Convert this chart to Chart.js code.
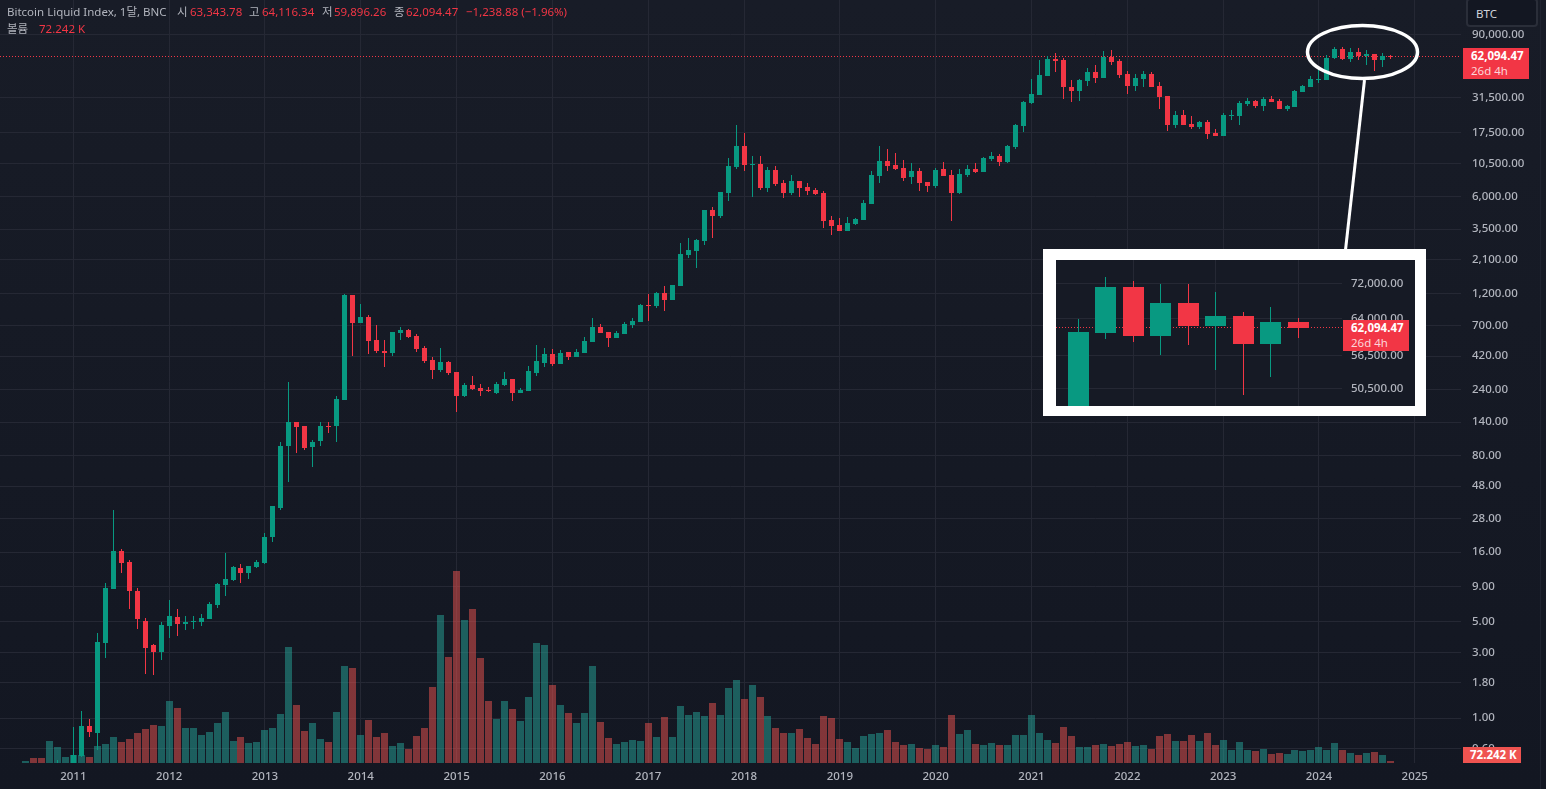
<!DOCTYPE html>
<html>
<head>
<meta charset="utf-8">
<script src="https://cdn.jsdelivr.net/npm/chart.js@4"></script>
<style>
html, body { margin: 0; padding: 0; width: 1546px; height: 789px; overflow: hidden; }
body { background: linear-gradient(#181c27, #131722); position: relative;
  font-family: "Noto Sans", "Noto Sans CJK KR", sans-serif; font-size: 11.5px; color: #b2b5be; }
canvas { position: absolute; display: block; }
.t { position: absolute; white-space: nowrap; line-height: 16px; }
.r { color: #f23645; }
#inset { position: absolute; left: 1043px; top: 249px; width: 359px; height: 146px;
  border-style: solid; border-color: #fff; border-width: 11px 11px 10px 13px; background: #161a25; }
#edge { position: absolute; left: 1540px; top: 0; width: 1px; height: 789px; background: #1f2330; }
#btc { position: absolute; left: 1466px; top: -2px; width: 68px; height: 25px; border: 1px solid #2a2e39; border-width: 2px;
  border-radius: 4px; background: #131722; line-height: 27px; text-indent: 8px; color: #d1d4dc; }
.tag { position: absolute; background: #f23645; color: #fff; font-weight: 700; }
.tag i { font-style: normal; font-weight: 400; color: #fcd5d9; display: block; }
svg { position: absolute; left: 0; top: 0; }
</style>
</head>
<body>
<canvas id="mainChart" width="1546" height="789" style="left:0;top:0"></canvas>
<div id="edge"></div>
<svg width="1546" height="789">
  <line x1="1364.5" y1="80" x2="1345.5" y2="250" stroke="#fff" stroke-width="3"/>
  <ellipse cx="1362.5" cy="52" rx="55" ry="26.5" fill="none" stroke="#fff" stroke-width="3.5"/>
</svg>
<div id="inset"><canvas id="insetChart" width="359" height="146" style="left:0;top:0"></canvas></div>

<div class="t" style="left:7px;top:4px">Bitcoin Liquid Index, 1달, BNC</div>
<div class="t" style="left:177px;top:4px">시</div><div class="t r" style="left:190px;top:4px">63,343.78</div>
<div class="t" style="left:249px;top:4px">고</div><div class="t r" style="left:262px;top:4px">64,116.34</div>
<div class="t" style="left:322px;top:4px">저</div><div class="t r" style="left:334px;top:4px">59,896.26</div>
<div class="t" style="left:394px;top:4px">종</div><div class="t r" style="left:406px;top:4px">62,094.47</div>
<div class="t r" style="left:466px;top:4px">−1,238.88 (−1.96%)</div>
<div class="t" style="left:7px;top:21px">볼륨</div><div class="t r" style="left:39px;top:21px">72.242 K</div>

<div id="btc">BTC</div>
<div class="tag" style="left:1463px;top:48px;width:58px;height:31px;padding-left:8px;line-height:15px">62,094.47<i>26d 4h</i></div>
<div class="tag" style="left:1463px;top:747px;width:51px;height:16px;padding-left:7px;line-height:16px;background:#ef5350">72.242 K</div>
<div class="tag" style="left:1343px;top:320px;width:58px;height:31px;padding-left:8px;line-height:15px">62,094.47<i>26d 4h</i></div>

<script>
var upColor = '#089981', downColor = '#f23645';
var upVolume = 'rgba(38,166,154,0.5)', downVolume = 'rgba(239,83,80,0.5)';
var gridColor = '#252834', tickColor = '#b2b5be';

// monthly candles, Jul 2010 - Oct 2024 (one row per year)
var opens = [
  .05,.07,.06,.06,.19,.21,
  .30,.529,.872,.776,3.48,8.69,16.4,13.6,8.28,5.10,3.37,3.00,
  4.69,5.45,4.85,4.94,4.94,5.19,6.66,9.29,10.1,12.33,11.18,12.54,
  13.4,20.4,33.6,94.4,141,130,93,102.7,132,130,203,1171,
  734,811,553,460,445,621,653,591,484,396,335,383,
  324,217,261,248,240,228,261,288,228,236,319,377,
  438,370,453,416,445,535,687,632,571,611,710,746,
  991,974,1211,1077,1360,2281,2439,2881,4830,4370,6410,9890,
  14040,10230,10400,6970,9410,7580,6410,7840,7090,6740,6410,4090,
  3760,3400,3825,4090,5340,8510,10940,10230,9730,8370,9250,7710,
  7210,9560,8650,6410,8650,9560,9100,11310,11885,10750,13810,19600,
  28770,32840,45130,59880,58900,37540,35110,41500,48260,43650,61900,57920,
  46670,38170,42930,46670,38170,32290,19930,23550,20270,19280,20960,17440,
  16590,23150,23150,28290,29750,27360,30700,29750,26030,26910,34530,37540,
  42200,42200,60980,71270,60370,67510,62450,64600,58750,63343.78
];
var highs = [
  .09,.07,.07,.19,.495,.30,
  .857,1.12,.98,4.11,9.61,32.5,16.95,13.9,8.84,5.36,3.42,4.94,
  7.24,6.23,5.54,5.54,5.73,6.89,9.61,15.62,12.75,13.2,12.75,14.1,
  21.8,34.75,101,275,141,132,104.4,139,139,217,1191,1171,
  1007,839,710,553,632,687,664,611,500,417,484,389,
  324,270,303,266,252,275,324,288,248,358,509,484,
  476,468,453,476,581,799,722,632,642,746,798,1007,
  1191,1231,1360,1383,2787,3030,2980,4830,5080,6520,11500,19930,
  17440,11885,11885,9890,10060,7970,8650,7840,7580,6970,6630,4370,
  4220,4300,4220,5710,9250,14040,13360,12500,11120,10580,9730,7710,
  9730,10750,9410,9560,10230,10580,11690,12710,12290,14270,20270,29750,
  42930,58900,62950,66200,60900,42200,42930,51530,54180,68440,69600,59880,
  49070,46670,49070,48260,40810,32290,25180,25600,23150,21310,21670,18650,
  24350,25600,29750,31210,30250,31750,32290,30700,27820,35700,38820,45130,
  50740,63940,73730,72730,72000,72000,70070,65480,66600,64116.34
];
var lows = [
  .05,.06,.05,.06,.14,.17,
  .29,.52,.726,.585,2.71,8.56,11.2,6.13,4.39,2.10,2.04,2.66,
  3.84,3.97,4.32,4.46,4.69,5.19,6.33,7.74,9.93,9.61,10.28,12.33,
  13.2,19.05,32.5,51.8,84.1,88.4,66.5,94.4,117,101,203,423,
  734,438,445,352,423,553,571,453,377,288,324,308,
  166,213,240,217,232,225,257,200,228,236,303,352,
  358,370,396,416,445,535,621,492,571,611,675,746,
  759,942,897,1077,1360,2170,1837,2695,3027,4220,5615,9560,
  9250,5990,6740,6520,7210,5900,6200,5990,6200,6200,3578,3180,
  3400,3400,3760,4090,5340,7580,9250,9410,7840,7450,6630,6520,
  6970,8510,4020,6300,8370,8950,9100,10940,10060,10580,13360,17740,
  28290,32840,45130,48260,30700,29260,29750,38170,40140,43650,54180,43650,
  33390,35110,37540,37540,26030,18040,18960,19930,18650,18650,15780,16590,
  16590,21670,19930,27360,26460,25180,29260,26030,25180,26910,34530,37540,
  40140,42200,59750,59150,56600,58550,53790,49420,52530,59896.26
];
var closes = [
  .07,.06,.055,.19,.21,.30,
  .538,.872,.789,3.54,8.84,16.4,13.4,8.28,5.19,3.25,3.00,4.77,
  5.54,4.85,4.94,5.02,5.28,6.77,9.45,10.28,12.54,11.18,12.75,13.64,
  20.7,34.2,94.4,141,128,91.3,101,132,130,206,1171,734,
  811,544,460,445,632,653,581,476,389,335,383,319,
  217,261,244,236,236,266,288,228,240,329,389,438,
  370,445,416,453,544,687,621,571,621,722,759,991,
  974,1211,1077,1383,2320,2480,2930,4830,4370,6520,10060,14040,
  10230,10400,6970,9410,7450,6410,7840,6970,6630,6300,4020,3700,
  3400,3890,4160,5430,8650,10940,10060,9560,8240,9250,7580,7210,
  9410,8510,6410,8800,9560,9100,11500,11885,10750,14040,19930,29260,
  33390,45900,59880,57920,37540,35110,42200,48260,43650,61900,56960,45900,
  38170,43650,46670,37540,31750,19930,23550,19930,19280,20960,17150,16590,
  23550,23550,28770,29750,27360,30700,29260,26030,27360,35110,38170,42930,
  42930,61180,71270,60370,67510,62450,64600,58750,63290,62094.47
];
// volume in thousands
var volumes = [
  90,225,225,990,720,270,
  360,360,270,765,855,1170,945,1080,1350,1530,1710,1665,
  2790,2475,1575,1575,1260,1395,1800,2295,990,1170,900,945,
  1485,1575,2205,5220,2610,1440,1800,1080,945,2295,4365,4275,
  1260,1935,1170,1350,765,900,630,1215,1575,3420,6660,4770,
  8640,6435,6930,4725,2790,1980,2790,2430,1890,2970,5400,5310,
  3510,2610,2250,1800,2250,4365,1845,1125,855,945,1035,990,
  1800,1170,2070,1170,2565,2160,2295,2115,2700,2160,3375,3735,
  2880,3510,2970,2115,1575,1350,1350,1530,1125,855,2115,2025,
  1080,945,675,1215,1305,1350,1485,945,810,855,675,630,
  810,720,2160,1305,1485,855,810,900,810,810,1260,1260,
  2160,1350,1035,900,1620,1215,720,720,810,855,765,855,
  945,765,810,630,1215,1305,990,990,1260,990,1350,810,
  1035,585,945,585,540,630,405,450,405,585,540,585,
  720,585,900,585,450,360,450,495,360,72.242
];
var yearLabels = ['2011','2012','2013','2014','2015','2016','2017','2018','2019','2020','2021','2022','2023','2024','2025'];
var priceTicks = [90000,31500,17500,10500,6000,3500,2100,1200,700,420,240,140,80,48,28,16,9,5,3,1.8,1,0.6];
var insetTicks = [72000,64000,56500,50500];
var insetCount = 9;   // the inset repeats the last 9 months
var lastClose = closes[closes.length - 1];

function money(v) {
  return Number(v).toLocaleString('en-US', {minimumFractionDigits: 2, maximumFractionDigits: 2});
}

function candleSets(o, h, l, c, bodyWidth) {
  var wick = [], body = [], colors = [];
  for (var i = 0; i < o.length; i++) {
    wick.push({x: i, y: [l[i], h[i]]});
    body.push({x: i, y: [Math.min(o[i], c[i]), Math.max(o[i], c[i])]});
    colors.push(c[i] >= o[i] ? upColor : downColor);
  }
  return [
    {data: wick, backgroundColor: colors, barThickness: 1, grouped: false, inflateAmount: 0, yAxisID: 'y', order: 2},
    {data: body, backgroundColor: colors, barThickness: bodyWidth, grouped: false, inflateAmount: 0, yAxisID: 'y', order: 1}
  ];
}

// chart.js reserves half a label above and below, the plot has to fill the canvas
function noPadding(s) {
  s.paddingTop = 0;
  s.paddingBottom = 0;
  s.paddingLeft = 0;
  s.paddingRight = 0;
}

// keep the bars on whole pixels like the original
var snapBars = {
  id: 'snapBars',
  beforeDatasetsDraw: function (chart) {
    chart.getSortedVisibleDatasetMetas().forEach(function (meta) {
      meta.data.forEach(function (el) {
        el.x = Math.floor(el.x) + 0.5;
        el.y = Math.round(el.y);
        el.base = Math.round(el.base);
        if (el.base === el.y) el.base = el.y + 1;
      });
    });
  }
};

var lastPriceLine = {
  id: 'lastPriceLine',
  beforeDatasetsDraw: function (chart) {
    var y = Math.floor(chart.scales.y.getPixelForValue(lastClose)) + 0.5;
    var ctx = chart.ctx;
    ctx.save();
    ctx.strokeStyle = downColor;
    ctx.setLineDash([1, 2]);
    ctx.beginPath();
    ctx.moveTo(chart.chartArea.left, y);
    ctx.lineTo(chart.chartArea.right, y);
    ctx.stroke();
    ctx.restore();
  }
};

var font = {family: '"Noto Sans", sans-serif', size: 11.5, weight: '500'};

var mainSets = candleSets(opens, highs, lows, closes, 5);
mainSets.push({
  data: volumes.map(function (v, i) { return {x: i, y: v}; }),
  backgroundColor: volumes.map(function (v, i) { return closes[i] >= opens[i] ? upVolume : downVolume; }),
  barThickness: 7, grouped: false, inflateAmount: 0, yAxisID: 'volume', order: 3
});

new Chart(document.getElementById('mainChart'), {
  type: 'bar',
  data: {datasets: mainSets},
  plugins: [snapBars, lastPriceLine],
  options: {
    responsive: false, animation: false, devicePixelRatio: 1,
    layout: {padding: 0},
    plugins: {legend: {display: false}, tooltip: {enabled: false}},
    scales: {
      x: {
        type: 'linear', offset: false, min: -3.181, max: 179.79,
        grid: {offset: false, color: gridColor, drawTicks: false},
        border: {display: false},
        afterBuildTicks: function (s) {
          s.ticks = yearLabels.map(function (y, k) { return {value: 6 + 12 * k}; });
        },
        afterFit: function (s) { s.height = 26; noPadding(s); },
        ticks: {
          color: tickColor, font: font, padding: 7,
          autoSkip: false, maxRotation: 0,
          callback: function (v) { return yearLabels[(v - 6) / 12]; }
        }
      },
      y: {
        type: 'logarithmic', position: 'right', min: 0.473, max: 160300,
        grid: {color: gridColor, drawTicks: false},
        border: {display: false},
        afterBuildTicks: function (s) {
          s.ticks = priceTicks.map(function (v) { return {value: v}; });
        },
        afterFit: function (s) { s.width = 85; noPadding(s); },
        ticks: {color: tickColor, font: font, padding: 11, autoSkip: false, callback: money}
      },
      volume: {type: 'linear', display: false, min: 0, max: 34335}
    }
  }
});

var insetSets = candleSets(opens.slice(-insetCount), highs.slice(-insetCount), lows.slice(-insetCount), closes.slice(-insetCount), 21);

new Chart(document.getElementById('insetChart'), {
  type: 'bar',
  data: {datasets: insetSets},
  plugins: [snapBars, lastPriceLine],
  options: {
    responsive: false, animation: false, devicePixelRatio: 1,
    layout: {padding: 0},
    plugins: {legend: {display: false}, tooltip: {enabled: false}},
    scales: {
      x: {
        type: 'linear', offset: false, min: -0.811, max: 9.589,
        grid: {offset: false, color: gridColor, drawTicks: false},
        border: {display: false},
        afterBuildTicks: function (s) {
          s.ticks = [2, 5, 8].map(function (v) { return {value: v}; });
        },
        afterFit: function (s) { s.height = 0; noPadding(s); },
        ticks: {display: false}
      },
      y: {
        type: 'logarithmic', position: 'right', min: 47600, max: 78100,
        grid: {color: gridColor, drawTicks: false},
        border: {display: false},
        afterBuildTicks: function (s) {
          s.ticks = insetTicks.map(function (v) { return {value: v}; });
        },
        afterFit: function (s) { s.width = 73; noPadding(s); },
        ticks: {color: tickColor, font: font, padding: 9, autoSkip: false, callback: money}
      }
    }
  }
});
</script>
</body>
</html>
